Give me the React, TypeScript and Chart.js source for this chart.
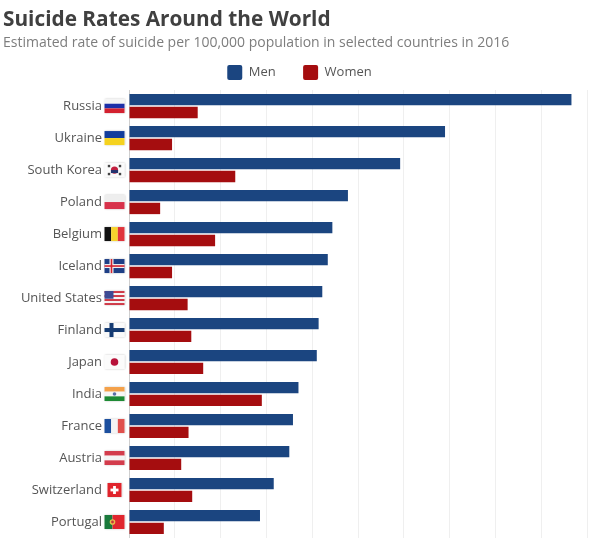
import React, { useEffect, useRef } from "react";
import { Chart, registerables } from "chart.js";

Chart.register(...registerables);

const countries = ["Russia", "Ukraine", "South Korea", "Poland", "Belgium", "Iceland", "United States", "Finland", "Japan", "India", "France", "Austria", "Switzerland", "Portugal"];
const men = [48.3, 34.5, 29.6, 23.9, 22.2, 21.7, 21.1, 20.7, 20.5, 18.5, 17.9, 17.5, 15.8, 14.3];
const women = [7.5, 4.7, 11.6, 3.4, 9.4, 4.7, 6.4, 6.8, 8.1, 14.5, 6.5, 5.7, 6.9, 3.8];

type Ctx = CanvasRenderingContext2D;

function hStripes(c: Ctx, x: number, y: number, w: number, h: number, cols: string[]) {
  const s = h / cols.length;
  cols.forEach((col, i) => { c.fillStyle = col; c.fillRect(x, y + i * s, w, s); });
}
function vStripes(c: Ctx, x: number, y: number, w: number, h: number, cols: string[]) {
  const s = w / cols.length;
  cols.forEach((col, i) => { c.fillStyle = col; c.fillRect(x + i * s, y, s, h); });
}
function disc(c: Ctx, x: number, y: number, r: number, col: string) {
  c.fillStyle = col; c.beginPath(); c.arc(x, y, r, 0, Math.PI * 2); c.fill();
}

const flags: Record<string, (c: Ctx, x: number, y: number, w: number, h: number) => void> = {
  Russia: (c, x, y, w, h) => hStripes(c, x, y, w, h, ["#f4f4f4", "#1c2fa8", "#d3202f"]),
  Ukraine: (c, x, y, w, h) => hStripes(c, x, y, w, h, ["#123d9c", "#f5d21f"]),
  "South Korea": (c, x, y, w, h) => {
    hStripes(c, x, y, w, h, ["#fafafa"]);
    disc(c, x + w / 2, y + h / 2, 3.6, "#c2203f");
    c.fillStyle = "#23336f"; c.fillRect(x + w / 2 - 3.6, y + h / 2, 7.2, 3);
    c.fillStyle = "#444444";
    [[4.5, 3], [w - 4.5, 3], [4.5, h - 3], [w - 4.5, h - 3]].forEach(([a, b]) => c.fillRect(x + a - 1.2, y + b - 1.2, 2.4, 2.4));
  },
  Poland: (c, x, y, w, h) => hStripes(c, x, y, w, h, ["#eeeeee", "#d8324b"]),
  Belgium: (c, x, y, w, h) => vStripes(c, x, y, w, h, ["#111111", "#f6d32d", "#e0343c"]),
  Iceland: (c, x, y, w, h) => {
    hStripes(c, x, y, w, h, ["#1e3f86"]);
    c.fillStyle = "#f2f2f2"; c.fillRect(x + 5, y, 4, h); c.fillRect(x, y + h / 2 - 2, w, 4);
    c.fillStyle = "#d3232f"; c.fillRect(x + 6.2, y, 1.6, h); c.fillRect(x, y + h / 2 - 0.8, w, 1.6);
  },
  "United States": (c, x, y, w, h) => {
    hStripes(c, x, y, w, h, ["#cf3a48", "#f4f4f4", "#cf3a48", "#f4f4f4", "#cf3a48", "#f4f4f4", "#cf3a48"]);
    c.fillStyle = "#3c4a94"; c.fillRect(x, y, w * 0.45, h * 0.55);
  },
  Finland: (c, x, y, w, h) => {
    hStripes(c, x, y, w, h, ["#fafafa"]);
    c.fillStyle = "#143a72"; c.fillRect(x + 5, y, 4, h); c.fillRect(x, y + h / 2 - 2, w, 4);
  },
  Japan: (c, x, y, w, h) => {
    hStripes(c, x, y, w, h, ["#fbfbfb"]);
    disc(c, x + w / 2, y + h / 2, 3.8, "#b8133a");
  },
  India: (c, x, y, w, h) => {
    hStripes(c, x, y, w, h, ["#f4a14a", "#f6f6f6", "#1e8a34"]);
    disc(c, x + w / 2, y + h / 2, 1.8, "#5a6ea5");
  },
  France: (c, x, y, w, h) => vStripes(c, x, y, w, h, ["#1c4f9e", "#f4f4f4", "#e0504c"]),
  Austria: (c, x, y, w, h) => hStripes(c, x, y, w, h, ["#d33c4c", "#f4f4f4", "#d33c4c"]),
  Switzerland: (c, x, y, w, h) => {
    const nx = x + 3, nw = w - 6;
    hStripes(c, nx, y, nw, h, ["#e0242c"]);
    c.fillStyle = "#ffffff";
    c.fillRect(nx + nw / 2 - 1.4, y + h / 2 - 4, 2.8, 8);
    c.fillRect(nx + nw / 2 - 4, y + h / 2 - 1.4, 8, 2.8);
  },
  Portugal: (c, x, y, w, h) => {
    c.fillStyle = "#1a7a3c"; c.fillRect(x, y, w * 0.4, h);
    c.fillStyle = "#e0262e"; c.fillRect(x + w * 0.4, y, w * 0.6, h);
    disc(c, x + w * 0.4, y + h / 2, 2.8, "#e6c04a");
    disc(c, x + w * 0.4, y + h / 2, 1.4, "#c8323a");
  },
};

const flagPlugin = {
  id: "flags",
  afterDraw(chart: any) {
    const c: Ctx = chart.ctx;
    const yScale = chart.scales.y;
    countries.forEach((name, i) => {
      const cy = yScale.getPixelForValue(i);
      const w = 20, h = 14, x = 104.5, y = cy - 7;
      c.save();
      c.shadowColor = "rgba(0,0,0,0.22)";
      c.shadowBlur = 2;
      c.fillStyle = "#ffffff";
      if (name === "Switzerland") c.fillRect(x + 3, y, w - 6, h);
      else c.fillRect(x, y, w, h);
      c.restore();
      flags[name](c, x, y, w, h);
    });
  },
};

const FONT = "'Open Sans', sans-serif";

export default function App() {
  const ref = useRef<HTMLCanvasElement>(null);
  useEffect(() => {
    document.body.style.margin = "0";
    const chart = new Chart(ref.current as HTMLCanvasElement, {
      type: "bar",
      data: {
        labels: countries,
        datasets: [
          { label: "Men", data: men, backgroundColor: "#1b4580", borderWidth: 0, categoryPercentage: 0.8, barPercentage: 0.89 },
          { label: "Women", data: women, backgroundColor: "#a50d0f", borderWidth: 0, categoryPercentage: 0.8, barPercentage: 0.89 },
        ],
      },
      options: {
        indexAxis: "y",
        animation: false,
        responsive: true,
        maintainAspectRatio: false,
        layout: { autoPadding: false, padding: { left: 3, right: 8, top: 8, bottom: 0 } },
        plugins: {
          title: {
            display: true,
            text: "Suicide Rates Around the World",
            align: "start",
            color: "#404040",
            font: { family: FONT, size: 20.8, weight: "bold" },
            padding: { top: 0, bottom: 1.5 },
          },
          subtitle: {
            display: true,
            text: "Estimated rate of suicide per 100,000 population in selected countries in 2016",
            align: "start",
            color: "#7d7d7d",
            font: { family: FONT, size: 14 },
            padding: { top: 0, bottom: 3.3 },
          },
          legend: {
            display: true,
            position: "top",
            labels: {
              boxWidth: 15,
              boxHeight: 15,
              useBorderRadius: true,
              borderRadius: 2,
              padding: 10.5,
              color: "#555555",
              font: { family: FONT, size: 13 },
              generateLabels: (chart: any) => {
                const items = Chart.defaults.plugins.legend.labels.generateLabels(chart);
                return items.map((it: any, i: number) => (i === 0 ? { ...it, text: it.text + "     " } : it));
              },
            },
          },
          tooltip: { enabled: false },
        },
        scales: {
          x: {
            type: "linear",
            min: 0,
            max: 50.98,
            afterFit: (s: any) => { s.height = 0; },
            grid: { color: "#efefef", drawTicks: false },
            border: { display: false },
            ticks: { display: false, stepSize: 5, includeBounds: false },
          },
          y: {
            type: "category",
            grid: { display: false, drawTicks: false },
            border: { display: true, color: "#cfcfcf" },
            afterFit: (s: any) => { s.width = 126; s.paddingTop = 0; s.paddingBottom = 0; },
            ticks: { color: "#555555", padding: 27, autoSkip: false, font: { family: FONT, size: 13 } },
          },
        },
      },
      plugins: [flagPlugin],
    } as any);
    return () => chart.destroy();
  }, []);
  return (
    <div style={{ position: "relative", width: 604, height: 538 }}>
      <canvas ref={ref} />
    </div>
  );
}
